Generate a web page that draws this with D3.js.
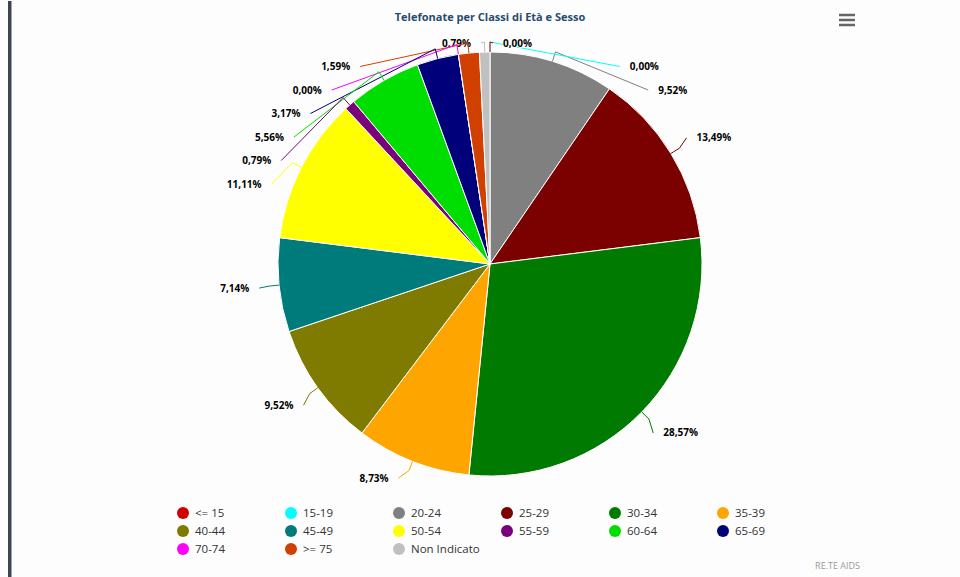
<!DOCTYPE html>
<html>
<head>
<meta charset="utf-8">
<script src="https://d3js.org/d3.v7.min.js"></script>
<style>
  html, body { margin: 0; padding: 0; background: #fdfdfd; }
  svg { display: block; }
</style>
</head>
<body>
<svg id="chart" width="960" height="577"></svg>
<script>
const categories = ["<= 15", "15-19", "20-24", "25-29", "30-34", "35-39", "40-44", "45-49", "50-54", "55-59", "60-64", "65-69", "70-74", ">= 75", "Non Indicato"];
const calls = [0, 0, 12, 17, 36, 11, 12, 9, 14, 1, 7, 4, 0, 2, 1];
const colors = ["#d00000", "#00ffff", "#808080", "#7b0000", "#007a00", "#ffa500", "#7f7a00", "#007b7b", "#ffff00", "#7b007b", "#00dd00", "#00007b", "#ff00ff", "#d04000", "#c0c0c0"];
const title = "Telefonate per Classi di Età e Sesso";
const credits = "RE.TE AIDS";

const svg = d3.select("#chart");
const cx = 490, cy = 264, r = 212;
const distance = 30, slot = 23.5, topY = 43, bottomY = 478;

// left border of the container
svg.append("rect").attr("x", 8).attr("y", 1).attr("width", 3.5).attr("height", 577).attr("fill", "#3d4553");

svg.append("text")
  .attr("x", cx).attr("y", 21)
  .attr("text-anchor", "middle")
  .attr("font-family", "Open Sans")
  .attr("font-weight", "bold")
  .attr("font-size", "11px")
  .attr("fill", "#274b6d")
  .text(title);

// menu button
const menu = svg.append("g").attr("transform", "translate(839,15)");
[0, 5, 10].forEach(d => {
  menu.append("line").attr("x1", 0).attr("x2", 16).attr("y1", d).attr("y2", d)
    .attr("stroke", "#666").attr("stroke-width", 2.5);
});

const total = d3.sum(calls);
const data = categories.map((c, i) => ({ name: c, value: calls[i], color: colors[i] }));
const pie = d3.pie().value(d => d.value).sort(null);
const arcs = pie(data);
const arc = d3.arc().innerRadius(0).outerRadius(r);

const g = svg.append("g").attr("transform", `translate(${cx},${cy})`);
g.selectAll("path.slice")
  .data(arcs)
  .join("path")
  .attr("class", "slice")
  .attr("d", arc)
  .attr("fill", d => d.data.color)
  .attr("stroke", "#fff")
  .attr("stroke-width", 1);

// data label placement, highcharts style
const R = r + distance;
const pos = (a, rad) => [cx + Math.sin(a) * rad, cy - Math.cos(a) * rad];
const labels = arcs.map(d => {
  const a = (d.startAngle + d.endAngle) / 2;
  const side = a > Math.PI ? -1 : 1;
  const nat = pos(a, R);
  return { d, a, side, natX: nat[0], natY: nat[1], y: nat[1] };
});

[1, -1].forEach(side => {
  const L = labels.filter(l => l.side === side).sort((p, q) => p.natY - q.natY);
  let prev = -Infinity;
  L.forEach(l => { l.y = Math.max(l.natY, prev + slot, topY); prev = l.y; });
  let next = Infinity;
  for (let i = L.length - 1; i >= 0; i--) {
    L[i].y = Math.min(L[i].y, next - slot, bottomY);
    next = L[i].y;
  }
});

const fmt = v => (v / total * 100).toFixed(2).replace(".", ",") + "%";

// drawn last to first so the first zero slice's connector stays on top
labels.slice().reverse().forEach(l => {
  const clamped = (l.natY < topY && l.y === topY) || (l.natY > bottomY && l.y === bottomY);
  let endX;
  if (clamped) {
    endX = l.natX + l.side * 3;
  } else {
    const dy = l.y - cy;
    endX = cx + l.side * Math.sqrt(Math.max(0, R * R - dy * dy)) - l.side * 10;
  }
  const edge = pos(l.a, r);
  const brk = pos(l.a, r + 10);
  svg.append("path")
    .attr("d", `M${edge[0]},${edge[1]}L${brk[0]},${brk[1]}L${endX},${l.y}`)
    .attr("fill", "none")
    .attr("stroke", l.d.data.color)
    .attr("stroke-width", 1);
  svg.append("text")
    .attr("x", endX + l.side * 10)
    .attr("y", l.y)
    .attr("dy", "0.35em")
    .attr("text-anchor", l.side > 0 ? "start" : "end")
    .attr("font-family", "Open Sans")
    .attr("font-weight", "bold")
    .attr("font-size", "10px")
    .attr("fill", "#000")
    .attr("stroke", "#fff")
    .attr("stroke-width", 1.5)
    .attr("paint-order", "stroke")
    .text(fmt(l.d.data.value));
});

// legend
const perRow = 6, itemW = 108, rowH = 18, lx = 183, ly = 513;
const legend = svg.append("g");
const items = legend.selectAll("g")
  .data(data)
  .join("g")
  .attr("transform", (d, i) => `translate(${lx + (i % perRow) * itemW},${ly + Math.floor(i / perRow) * rowH})`);
items.append("circle").attr("r", 6).attr("fill", d => d.color);
items.append("text")
  .attr("x", 12).attr("dy", "0.35em")
  .attr("font-family", "Open Sans")
  .attr("font-size", "11.5px")
  .attr("fill", "#333")
  .text(d => d.name);

svg.append("text")
  .attr("x", 860).attr("y", 569)
  .attr("text-anchor", "end")
  .attr("font-family", "Open Sans")
  .attr("font-size", "9px")
  .attr("fill", "#999")
  .text(credits);
</script>
</body>
</html>
